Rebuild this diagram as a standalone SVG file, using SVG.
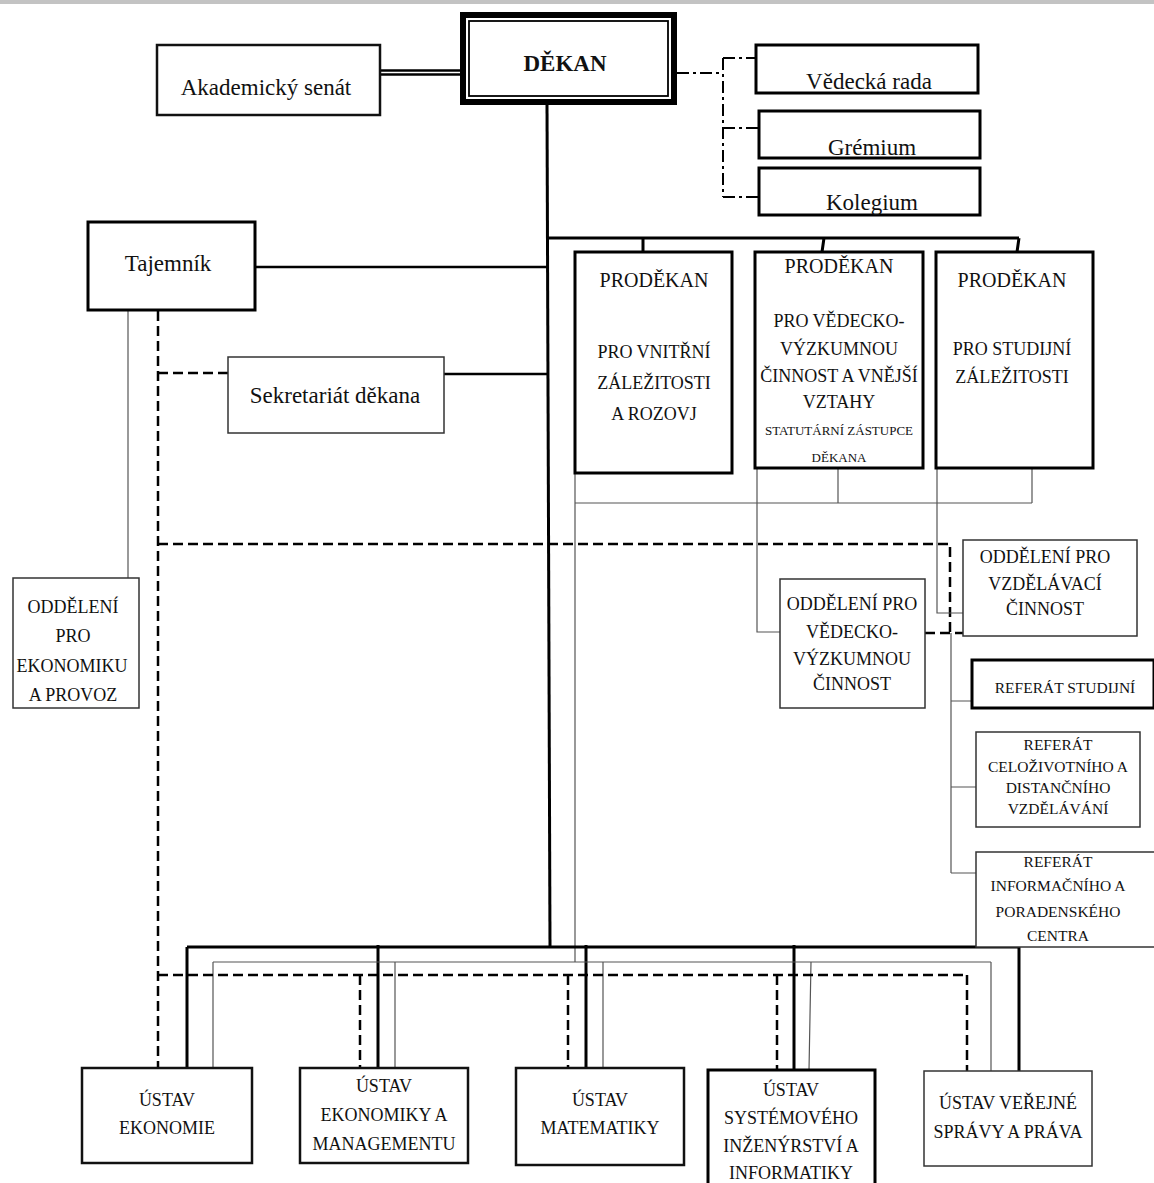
<svg xmlns="http://www.w3.org/2000/svg" width="1154" height="1183" viewBox="0 0 1154 1183">
<style>
text{font-family:"Liberation Serif","Times New Roman",serif;fill:#111;text-anchor:middle}
.t18{font-size:18px}.t20{font-size:20px}.t23{font-size:23px}.t15{font-size:15.5px}.t13{font-size:13px}
.bx{fill:#fff;stroke:#000;stroke-width:3}
.bm{fill:#fff;stroke:#111;stroke-width:2.5}
.bt{fill:#fff;stroke:#333;stroke-width:1.5}
.thick{stroke:#000;stroke-width:3;fill:none}
.mid{stroke:#000;stroke-width:2.5;fill:none}
.thin{stroke:#555;stroke-width:1.2;fill:none}
.dash{stroke:#000;stroke-width:2.5;fill:none;stroke-dasharray:10 5}
.dd{stroke:#000;stroke-width:2;fill:none;stroke-dasharray:12 4 3 4}
</style>
<rect x="0" y="0" width="1154" height="4" fill="#c3c3c3"/>
<g id="connectors">
  <line class="mid" x1="380" y1="70.5" x2="462" y2="70.5" stroke-width="2"/>
  <line class="mid" x1="380" y1="74.5" x2="462" y2="74.5" stroke-width="2"/>
  <path class="dd" d="M677 73 H723 M723 58 V197 M723 58 H757 M723 128 H759 M723 197 H759"/>
  <line class="thick" x1="547" y1="105" x2="550" y2="947"/>
  <path class="thick" d="M547 238 H1019 M643 238 V252 M824 238 L822 252 M1019 238 L1017 252"/>
  <line class="mid" x1="255" y1="267" x2="548" y2="267"/>
  <line class="mid" x1="444" y1="374" x2="548" y2="374"/>
  <line class="thin" x1="128" y1="310" x2="128" y2="578"/>
  <path class="dash" d="M158 311 V1067 M158 373 H228 M158 544 H950 V633 M925 633 H963"/>
  <path class="thin" d="M575 473 V962 M575 503 H1032 M838 468 V503 M1032 468 V503"/>
  <path class="thin" d="M757 468 V632 H788"/>
  <path class="thin" d="M937 468 V613 H963"/>
  <path class="thin" d="M951 633 V873 M951 701 H972 M951 787 H976 M951 873 H976"/>
  <path class="thick" d="M187 947 H1019 M187 947 V1068 M378 945 V1068 M586 945 V1068 M794 945 V1070 M1019 947 V1072"/>
  <path class="thin" d="M213 962 H991 M213 962 V1068 M395 962 V1068 M603 962 V1068 M811 962 L809 1070 M991 962 V1072"/>
  <path class="dash" d="M158 975 H967 M360 975 V1068 M568 975 V1068 M777 975 V1070 M967 975 V1072"/>
</g>
<g id="dekan">
  <rect x="463" y="15" width="211" height="87" fill="#fff" stroke="#000" stroke-width="6"/>
  <rect x="469" y="21" width="199" height="75" fill="none" stroke="#000" stroke-width="1.8"/>
  <text x="565" y="71" class="t23" font-weight="bold">DĚKAN</text>
</g>
<g id="senat">
  <rect class="bm" x="157" y="45" width="223" height="70"/>
  <text x="266" y="95" class="t23">Akademický senát</text>
</g>
<g id="vedecka-rada">
  <rect class="bx" x="756" y="45" width="222" height="48"/>
  <text x="869" y="89" class="t23">Vědecká rada</text>
</g>
<g id="gremium">
  <rect class="bx" x="759" y="111" width="221" height="47"/>
  <text x="872" y="155" class="t23">Grémium</text>
</g>
<g id="kolegium">
  <rect class="bx" x="759" y="168" width="221" height="47"/>
  <text x="872" y="210" class="t23">Kolegium</text>
</g>
<g id="tajemnik">
  <rect class="bx" x="88" y="222" width="167" height="88"/>
  <text x="168" y="271" class="t23">Tajemník</text>
</g>
<g id="sekretariat">
  <rect class="bt" x="228" y="357" width="216" height="76"/>
  <text x="335" y="403" class="t23">Sekretariát děkana</text>
</g>
<g id="prodekan1">
  <rect class="bx" x="575" y="252" width="157" height="221"/>
  <text x="654" y="287" class="t20">PRODĚKAN</text>
  <text x="654" y="358" class="t18">PRO VNITŘNÍ</text>
  <text x="654" y="389" class="t18">ZÁLEŽITOSTI</text>
  <text x="654" y="420" class="t18">A ROZOVJ</text>
</g>
<g id="prodekan2">
  <rect class="bx" x="755" y="252" width="168" height="216"/>
  <text x="839" y="273" class="t20">PRODĚKAN</text>
  <text x="839" y="327" class="t18">PRO VĚDECKO-</text>
  <text x="839" y="355" class="t18">VÝZKUMNOU</text>
  <text x="839" y="382" class="t18">ČINNOST A VNĚJŠÍ</text>
  <text x="839" y="408" class="t18">VZTAHY</text>
  <text x="839" y="435" class="t13">STATUTÁRNÍ ZÁSTUPCE</text>
  <text x="839" y="462" class="t13">DĚKANA</text>
</g>
<g id="prodekan3">
  <rect class="bx" x="936" y="252" width="157" height="216"/>
  <text x="1012" y="287" class="t20">PRODĚKAN</text>
  <text x="1012" y="355" class="t18">PRO STUDIJNÍ</text>
  <text x="1012" y="383" class="t18">ZÁLEŽITOSTI</text>
</g>
<g id="odd-ekonomika">
  <rect class="bt" x="13" y="578" width="126" height="130"/>
  <text x="73" y="613" class="t18">ODDĚLENÍ</text>
  <text x="73" y="642" class="t18">PRO</text>
  <text x="72" y="672" class="t18">EKONOMIKU</text>
  <text x="73" y="701" class="t18">A PROVOZ</text>
</g>
<g id="odd-veda">
  <rect class="bt" x="780" y="579" width="145" height="129"/>
  <text x="852" y="610" class="t18">ODDĚLENÍ PRO</text>
  <text x="852" y="638" class="t18">VĚDECKO-</text>
  <text x="852" y="665" class="t18">VÝZKUMNOU</text>
  <text x="852" y="690" class="t18">ČINNOST</text>
</g>
<g id="odd-vzdelavani">
  <rect class="bt" x="963" y="540" width="174" height="96"/>
  <text x="1045" y="563" class="t18">ODDĚLENÍ PRO</text>
  <text x="1045" y="590" class="t18">VZDĚLÁVACÍ</text>
  <text x="1045" y="615" class="t18">ČINNOST</text>
</g>
<g id="ref-studijni">
  <rect class="bx" x="972" y="660" width="182" height="48"/>
  <text x="1065" y="693" class="t15">REFERÁT STUDIJNÍ</text>
</g>
<g id="ref-celozivotni">
  <rect class="bt" x="976" y="732" width="164" height="95"/>
  <text x="1058" y="750" class="t15">REFERÁT</text>
  <text x="1058" y="772" class="t15">CELOŽIVOTNÍHO A</text>
  <text x="1058" y="793" class="t15">DISTANČNÍHO</text>
  <text x="1058" y="814" class="t15">VZDĚLÁVÁNÍ</text>
</g>
<g id="ref-informacni">
  <rect class="bt" x="976" y="852" width="190" height="95"/>
  <text x="1058" y="867" class="t15">REFERÁT</text>
  <text x="1058" y="891" class="t15">INFORMAČNÍHO A</text>
  <text x="1058" y="917" class="t15">PORADENSKÉHO</text>
  <text x="1058" y="941" class="t15">CENTRA</text>
</g>
<g id="ustav-ekonomie">
  <rect class="bm" x="82" y="1068" width="170" height="95"/>
  <text x="167" y="1106" class="t18">ÚSTAV</text>
  <text x="167" y="1134" class="t18">EKONOMIE</text>
</g>
<g id="ustav-ekonomiky">
  <rect class="bm" x="300" y="1068" width="168" height="95"/>
  <text x="384" y="1092" class="t18">ÚSTAV</text>
  <text x="384" y="1121" class="t18">EKONOMIKY A</text>
  <text x="384" y="1150" class="t18">MANAGEMENTU</text>
</g>
<g id="ustav-matematiky">
  <rect class="bm" x="516" y="1068" width="168" height="97"/>
  <text x="600" y="1106" class="t18">ÚSTAV</text>
  <text x="600" y="1134" class="t18">MATEMATIKY</text>
</g>
<g id="ustav-systemoveho">
  <rect class="bx" x="708" y="1070" width="167" height="130"/>
  <text x="791" y="1096" class="t18">ÚSTAV</text>
  <text x="791" y="1124" class="t18">SYSTÉMOVÉHO</text>
  <text x="791" y="1152" class="t18">INŽENÝRSTVÍ A</text>
  <text x="791" y="1179" class="t18">INFORMATIKY</text>
</g>
<g id="ustav-verejne">
  <rect class="bt" x="924" y="1071" width="168" height="95"/>
  <text x="1008" y="1109" class="t18">ÚSTAV VEŘEJNÉ</text>
  <text x="1008" y="1138" class="t18">SPRÁVY A PRÁVA</text>
</g>
</svg>
